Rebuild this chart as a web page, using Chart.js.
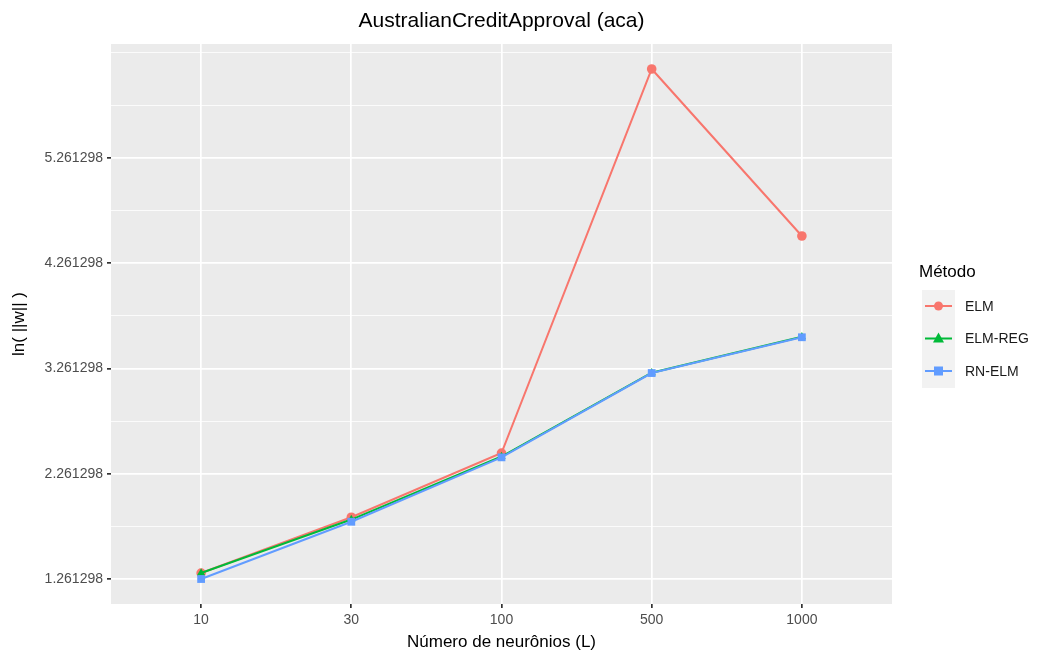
<!DOCTYPE html>
<html>
<head>
<meta charset="utf-8">
<script src="https://cdn.jsdelivr.net/npm/chart.js@4/dist/chart.umd.min.js"></script>
<style>
  body { margin: 0; background: #fff; }
  #wrap { width: 1040px; height: 655px; position: relative; }
</style>
</head>
<body>
<div id="wrap"><canvas id="chart" width="1040" height="655"></canvas></div>
<script>
const neuronios = ['10', '30', '100', '500', '1000'];
const elm = [1.318, 1.848, 2.458, 6.107, 4.520];
const elmReg = [1.318, 1.826, 2.425, 3.221, 3.562];
const rnElm = [1.261, 1.805, 2.417, 3.218, 3.558];
const yBase = 1.261298;
const yTickValues = [1.261298, 2.261298, 3.261298, 4.261298, 5.261298];

const FONT = '"Liberation Sans", Arial, sans-serif';
const seriesNames = ['ELM', 'ELM-REG', 'RN-ELM'];
const seriesColors = ['#F8766D', '#00BA38', '#619CFF'];
const seriesShapes = ['circle', 'triangle', 'rect'];

function toPoints(arr) {
    return arr.map((v, i) => ({ x: i, y: v }));
}

function isMajor(v) {
    return yTickValues.some(t => Math.abs(t - v) < 1e-6);
}

// ggplot style text and legend
const ggDecor = {
    id: 'ggDecor',
    beforeDraw(chart) {
        const { ctx, chartArea: a } = chart;
        ctx.save();
        ctx.fillStyle = '#EBEBEB';
        ctx.fillRect(a.left, a.top, a.right - a.left, a.bottom - a.top);
        ctx.restore();
    },
    afterDraw(chart) {
        const { ctx, chartArea: a } = chart;
        ctx.save();
        ctx.fillStyle = '#000';
        ctx.textAlign = 'center';
        ctx.textBaseline = 'middle';
        ctx.font = '21px ' + FONT;
        ctx.fillText('AustralianCreditApproval (aca)', (a.left + a.right) / 2, 21);
        ctx.font = '17px ' + FONT;
        ctx.fillText('Número de neurônios (L)', (a.left + a.right) / 2, 642);
        ctx.translate(19, (a.top + a.bottom) / 2);
        ctx.rotate(-Math.PI / 2);
        ctx.fillText('ln( ||w|| )', 0, 0);
        ctx.restore();

        // legend
        ctx.save();
        ctx.textAlign = 'left';
        ctx.textBaseline = 'middle';
        ctx.font = '17px ' + FONT;
        ctx.fillStyle = '#000';
        ctx.fillText('Método', 919, 272);
        ctx.font = '14px ' + FONT;
        seriesNames.forEach((name, i) => {
            const cy = 306 + i * 32.5;
            ctx.fillStyle = '#F2F2F2';
            ctx.fillRect(922, cy - 16, 33, 33);
            ctx.strokeStyle = seriesColors[i];
            ctx.lineWidth = 2;
            ctx.beginPath();
            ctx.moveTo(925, cy);
            ctx.lineTo(952, cy);
            ctx.stroke();
            ctx.fillStyle = seriesColors[i];
            ctx.beginPath();
            if (seriesShapes[i] === 'circle') {
                ctx.arc(938.5, cy, 4.5, 0, Math.PI * 2);
            } else if (seriesShapes[i] === 'triangle') {
                ctx.moveTo(938.5, cy - 6);
                ctx.lineTo(944, cy + 4);
                ctx.lineTo(933, cy + 4);
                ctx.closePath();
            } else {
                ctx.rect(934, cy - 4.5, 9, 9);
            }
            ctx.fill();
            ctx.fillStyle = '#1A1A1A';
            ctx.fillText(name, 965, cy + 1);
        });
        ctx.restore();
    }
};

const datasets = [elm, elmReg, rnElm].map((arr, i) => ({
    label: seriesNames[i],
    data: toPoints(arr),
    order: 2 - i,
    borderColor: seriesColors[i],
    backgroundColor: seriesColors[i],
    borderWidth: 2,
    pointStyle: seriesShapes[i],
    pointRadius: i === 2 ? 5.5 : 4.8,
    pointBorderWidth: 0,
    pointHoverRadius: 5,
    tension: 0
}));

new Chart(document.getElementById('chart'), {
    type: 'line',
    data: { datasets },
    options: {
        responsive: false,
        animation: false,
        layout: { padding: { top: 44, right: 148, left: 0, bottom: 0 } },
        plugins: { legend: { display: false }, tooltip: { enabled: false } },
        scales: {
            x: {
                type: 'linear',
                min: -0.6,
                max: 4.6,
                afterBuildTicks(scale) {
                    scale.ticks = neuronios.map((n, i) => ({ value: i }));
                },
                afterFit(scale) { scale.height = 51; },
                grid: {
                    color: '#FFFFFF',
                    lineWidth: 1.7,
                    tickColor: '#333333',
                    tickLength: 4
                },
                border: { display: false },
                ticks: {
                    autoSkip: false,
                    maxRotation: 0,
                    padding: 4,
                    color: '#4D4D4D',
                    font: { family: FONT, size: 14 },
                    callback: (v) => neuronios[v] ?? ''
                }
            },
            y: {
                type: 'linear',
                min: 1.0237,
                max: 6.3444,
                afterBuildTicks(scale) {
                    const t = [];
                    for (let k = 0; k <= 10; k++) t.push({ value: yBase + k * 0.5 });
                    scale.ticks = t;
                },
                afterFit(scale) { scale.width = 111; },
                grid: {
                    color: '#FFFFFF',
                    lineWidth: (c) => isMajor(c.tick.value) ? 1.7 : 0.8,
                    tickColor: (c) => isMajor(c.tick.value) ? '#333333' : 'rgba(0,0,0,0)',
                    tickLength: 4
                },
                border: { display: false },
                ticks: {
                    autoSkip: false,
                    padding: 4,
                    color: '#4D4D4D',
                    font: { family: FONT, size: 14 },
                    callback: (v) => isMajor(v) ? v.toFixed(6) : ''
                }
            }
        }
    },
    plugins: [ggDecor]
});
</script>
</body>
</html>
